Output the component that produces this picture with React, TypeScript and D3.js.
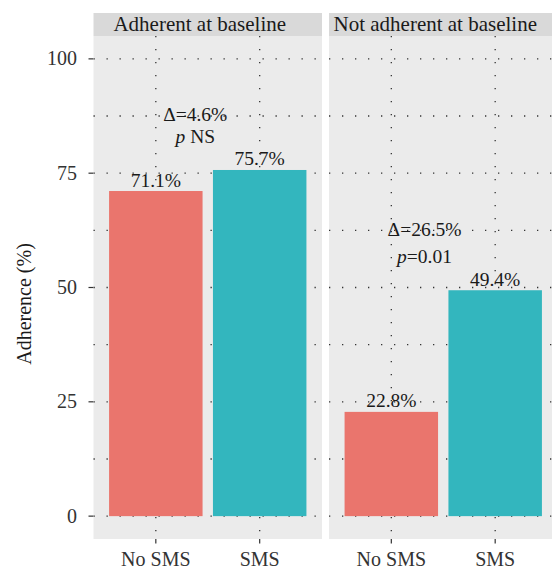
import React from "react";
import * as d3 from "d3";

// data
const groups = ["Adherent at baseline", "Not adherent at baseline"];
const arms = ["No SMS", "SMS"];
const adherence = [
  [71.1, 75.7],
  [22.8, 49.4],
];
const deltaText = ["Δ=4.6%", "Δ=26.5%"];
const pText = [
  ["p", " NS"],
  ["p", "=0.01"],
];
// annotation anchor, in data units (x = offset from first category, y = adherence)
const annotX = [0.38, 0.32];
const deltaY = [86.5, 61.2];
const pY = [81.6, 55.3];
const yTicks = [0, 25, 50, 75, 100];
const yMinor = [12.5, 37.5, 62.5, 87.5];

const W = 552;
const H = 571;
const font = '"Liberation Serif", "DejaVu Serif", serif';
const colors = ["#EA756D", "#33B6BE"];

export default function App() {
  const panelTop = 36;
  const panelBottom = 539;
  const stripTop = 13;
  const panelW = 228.5;
  const gap = 7;
  const left = 93.5;

  const y = d3.scaleLinear().domain([-5, 105]).range([panelBottom, panelTop]);

  const dots = { stroke: "#333", strokeWidth: 1.3, strokeDasharray: "1.3 11.7" };

  return (
    <svg width={W} height={H} style={{ position: "absolute", left: 0, top: 0, fontFamily: font }}>
      <rect width={W} height={H} fill="#fff" />
      {/* y axis */}
      <text
        transform={`translate(31,304) rotate(-90)`}
        textAnchor="middle"
        fontSize={20}
        fill="#1a1a1a"
      >
        Adherence (%)
      </text>
      {yTicks.map((t) => (
        <g key={t}>
          <text x={77} y={y(t) + 6.5} textAnchor="end" fontSize={20} fill="#333">
            {t}
          </text>
          <line x1={88.5} x2={93.5} y1={y(t)} y2={y(t)} stroke="#333" strokeWidth={1.2} />
        </g>
      ))}
      {groups.map((g, gi) => {
        const x0 = left + gi * (panelW + gap);
        const x = d3.scalePoint<string>().domain(arms).range([x0, x0 + panelW]).padding(0.6);
        const step = x.step();
        const bw = step * 0.9;
        const ax = (x(arms[0]) as number) + annotX[gi] * step;
        return (
          <g key={g}>
            <rect x={x0} y={stripTop} width={panelW} height={panelTop - stripTop} fill="#D9D9D9" />
            <text
              x={x0 + panelW / 2 - 8}
              y={stripTop + 18}
              textAnchor="middle"
              fontSize={21}
              fill="#1a1a1a"
            >
              {g}
            </text>
            <rect x={x0} y={panelTop} width={panelW} height={panelBottom - panelTop} fill="#EBEBEB" />
            {yMinor.concat(yTicks).map((t) => (
              <line key={"h" + t} x1={x0} x2={x0 + panelW} y1={y(t)} y2={y(t)} {...dots} />
            ))}
            {arms.map((a) => (
              <line
                key={"v" + a}
                x1={x(a)}
                x2={x(a)}
                y1={panelTop}
                y2={panelBottom}
                {...dots}
              />
            ))}
            {arms.map((a, ai) => (
              <rect
                key={"b" + a}
                x={(x(a) as number) - bw / 2}
                y={y(adherence[gi][ai])}
                width={bw}
                height={y(0) - y(adherence[gi][ai])}
                fill={colors[ai]}
              />
            ))}
            {arms.map((a, ai) => (
              <text
                key={"l" + a}
                x={x(a)}
                y={y(adherence[gi][ai]) - 4.5}
                textAnchor="middle"
                fontSize={19.5}
                fill="#1a1a1a"
              >
                {adherence[gi][ai].toFixed(1)}%
              </text>
            ))}
            <text x={ax} y={y(deltaY[gi])} textAnchor="middle" fontSize={19.5} fill="#1a1a1a">
              {deltaText[gi]}
            </text>
            <text x={ax} y={y(pY[gi])} textAnchor="middle" fontSize={19.5} fill="#1a1a1a">
              <tspan fontStyle="italic">{pText[gi][0]}</tspan>
              <tspan>{pText[gi][1]}</tspan>
            </text>
            {arms.map((a) => (
              <g key={"x" + a}>
                <line x1={x(a)} x2={x(a)} y1={panelBottom} y2={panelBottom + 4.5} stroke="#333" strokeWidth={1.2} />
                <text x={x(a)} y={566} textAnchor="middle" fontSize={20} fill="#333">
                  {a}
                </text>
              </g>
            ))}
          </g>
        );
      })}
    </svg>
  );
}
